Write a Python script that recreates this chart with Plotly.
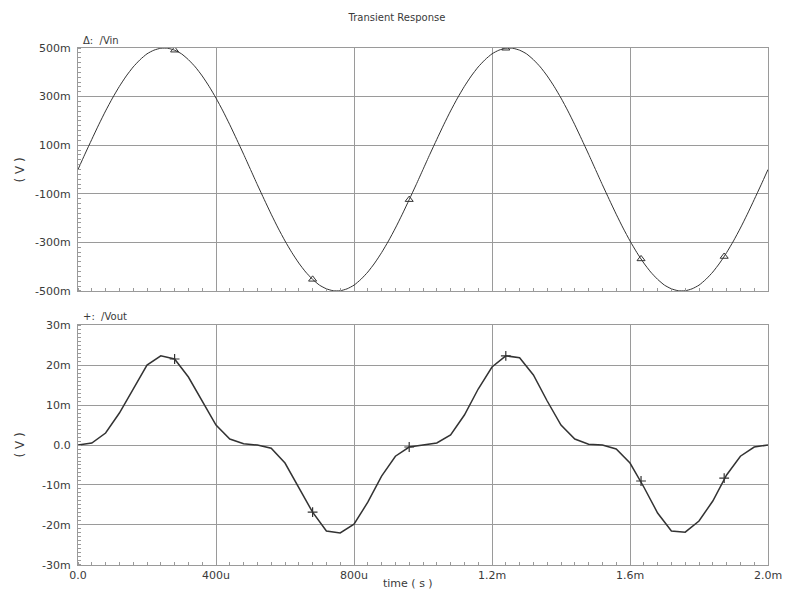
import plotly.graph_objects as go

# ---- data ----
vin_time_us = [0, 20, 40, 60, 80, 100, 120, 140, 160, 180, 200, 220, 240, 260, 280, 300, 320, 340, 360, 380,
               400, 420, 440, 460, 480, 500, 520, 540, 560, 580, 600, 620, 640, 660, 680, 700, 720, 740, 760,
               780, 800, 820, 840, 860, 880, 900, 920, 940, 960, 980, 1000, 1020, 1040, 1060, 1080, 1100, 1120,
               1140, 1160, 1180, 1200, 1220, 1240, 1260, 1280, 1300, 1320, 1340, 1360, 1380, 1400, 1420, 1440,
               1460, 1480, 1500, 1520, 1540, 1560, 1580, 1600, 1620, 1640, 1660, 1680, 1700, 1720, 1740, 1760,
               1780, 1800, 1820, 1840, 1860, 1880, 1900, 1920, 1940, 1960, 1980, 2000]
vin_mV = [0, 63, 124, 184, 241, 294, 342, 385, 422, 452, 476, 491, 499, 499, 491, 476, 452, 422, 385, 342,
          294, 241, 184, 124, 63,
          0, -63, -124, -184, -241, -294, -342, -385, -422, -452, -476, -491, -499, -499, -491, -476, -452,
          -422, -385, -342, -294, -241, -184, -124, -63,
          0, 63, 124, 184, 241, 294, 342, 385, 422, 452, 476, 491, 499, 499, 491, 476, 452, 422, 385, 342,
          294, 241, 184, 124, 63,
          0, -63, -124, -184, -241, -294, -342, -385, -422, -452, -476, -491, -499, -499, -491, -476, -452,
          -422, -385, -342, -294, -241, -184, -124, -63,
          0]

vout_time_us = [0, 40, 80, 120, 160, 200, 240, 280, 320, 360, 400, 440, 480, 520, 560, 600, 640, 680, 720, 760,
                800, 840, 880, 920, 960, 1000, 1040, 1080, 1120, 1160, 1200, 1240, 1280, 1320, 1360, 1400, 1440,
                1480, 1520, 1560, 1600, 1640, 1680, 1720, 1760, 1800, 1840, 1880, 1920, 1960, 2000]
vout_mV = [0, 0.5, 3.0, 8.0, 14.0, 20.0, 22.3, 21.5, 17.0, 11.0, 5.0, 1.5, 0.3, 0.0, -0.8, -4.5, -10.5, -16.8,
           -21.5, -22.0, -19.8, -14.3, -7.8, -2.8, -0.5, 0.0, 0.5, 2.5, 7.5, 14.0, 19.5, 22.3, 21.8, 17.5, 11.0,
           5.0, 1.5, 0.2, 0.0, -1.0, -4.5, -10.5, -17.0, -21.5, -21.8, -19.0, -14.0, -7.5, -2.8, -0.5, 0.0]

marker_us = [280, 680, 960, 1240, 1632, 1873]
vin_marker_mV = [491, -452, -124, 499, -368, -358]
vout_marker_mV = [21.5, -16.8, -0.5, 22.3, -9.0, -8.3]

x_tickvals_us = [0, 400, 800, 1200, 1600, 2000]
x_ticktext = ["0.0", "400u", "800u", "1.2m", "1.6m", "2.0m"]
top_tickvals_mV = [500, 300, 100, -100, -300, -500]
top_ticktext = ["500m", "300m", "100m", "-100m", "-300m", "-500m"]
bot_tickvals_mV = [30, 20, 10, 0, -10, -20, -30]
bot_ticktext = ["30m", "20m", "10m", "0.0", "-10m", "-20m", "-30m"]

tv = [v * 1e-6 for v in vin_time_us]
to = [v * 1e-6 for v in vout_time_us]
tm = [v * 1e-6 for v in marker_us]
vin = [v * 1e-3 for v in vin_mV]
vout = [v * 1e-3 for v in vout_mV]
vin_m = [v * 1e-3 for v in vin_marker_mV]
vout_m = [v * 1e-3 for v in vout_marker_mV]

LINE = "#333333"
GRID = "#9a9a9a"
TXT = "#3a3a3a"
FONT = "DejaVu Sans"

fig = go.Figure()
fig.add_trace(go.Scatter(x=tv, y=vin, mode="lines", line=dict(color=LINE, width=1, shape="spline", smoothing=0.6),
                         xaxis="x", yaxis="y", showlegend=False, hoverinfo="skip"))
fig.add_trace(go.Scatter(x=tm, y=vin_m, mode="markers",
                         marker=dict(symbol="triangle-up-open", size=7, color=LINE, line=dict(width=1)),
                         xaxis="x", yaxis="y", showlegend=False))
fig.add_trace(go.Scatter(x=to, y=vout, mode="lines", line=dict(color=LINE, width=1.5),
                         xaxis="x2", yaxis="y2", showlegend=False, hoverinfo="skip"))
fig.add_trace(go.Scatter(x=tm, y=vout_m, mode="markers",
                         marker=dict(symbol="cross-thin-open", size=7, color=LINE, line=dict(width=1.2, color=LINE)),
                         xaxis="x2", yaxis="y2", showlegend=False))

xt = [v * 1e-6 for v in x_tickvals_us]
common_x = dict(range=[0, 0.002], tickvals=xt, showgrid=True, gridcolor=GRID, gridwidth=1,
                showline=True, linecolor=GRID, linewidth=1, mirror=True, zeroline=False,
                ticks="", minor=dict(dtick=40e-6, tick0=0, ticks="inside", ticklen=3, tickcolor=GRID,
                                     showgrid=False))

fig.update_layout(
    width=794, height=596,
    margin=dict(l=78, r=21, t=48, b=31),
    paper_bgcolor="white", plot_bgcolor="white",
    font=dict(family=FONT, size=11, color=TXT),
    title=dict(text="Transient Response", x=0.5, xanchor="center", y=1 - 17 / 596, yanchor="middle",
               font=dict(size=10, color=TXT, family=FONT)),
    xaxis=dict(domain=[0, 1], anchor="y", showticklabels=False, **common_x),
    xaxis2=dict(domain=[0, 1], anchor="y2", showticklabels=True, ticktext=x_ticktext,
                tickfont=dict(size=11, color=TXT), **common_x),
    yaxis=dict(domain=[0.530, 1], anchor="x", range=[-0.5, 0.5],
               tickvals=[v * 1e-3 for v in top_tickvals_mV], ticktext=top_ticktext,
               showgrid=True, gridcolor=GRID, gridwidth=1, zeroline=False,
               showline=True, linecolor=GRID, linewidth=1, mirror=True, ticks="", ticklabelstandoff=4,
               minor=dict(dtick=0.02, tick0=0, ticks="inside", ticklen=3, tickcolor=GRID, showgrid=False),
               tickfont=dict(size=11, color=TXT)),
    yaxis2=dict(domain=[0, 0.4642], anchor="x2", range=[-0.03, 0.03],
                tickvals=[v * 1e-3 for v in bot_tickvals_mV], ticktext=bot_ticktext,
                showgrid=True, gridcolor=GRID, gridwidth=1, zeroline=False,
                showline=True, linecolor=GRID, linewidth=1, mirror=True, ticks="", ticklabelstandoff=4,
                minor=dict(dtick=0.001, tick0=0, ticks="inside", ticklen=3, tickcolor=GRID, showgrid=False),
                tickfont=dict(size=11, color=TXT)),
)

fig.add_annotation(text="\u0394:  /Vin", xref="paper", yref="paper", x=0.005, y=(565 - 40) / 517,
                   xanchor="left", yanchor="middle", showarrow=False, font=dict(size=10, color=TXT))
fig.add_annotation(text="+:  /Vout", xref="paper", yref="paper", x=0.005, y=(565 - 316) / 517,
                   xanchor="left", yanchor="middle", showarrow=False, font=dict(size=10, color=TXT))
fig.add_annotation(text="( V )", xref="paper", yref="paper", x=(20 - 78) / 695, y=(565 - 170) / 517,
                   xanchor="center", yanchor="middle", textangle=-90, showarrow=False,
                   font=dict(size=12, color=TXT))
fig.add_annotation(text="( V )", xref="paper", yref="paper", x=(20 - 78) / 695, y=(565 - 445) / 517,
                   xanchor="center", yanchor="middle", textangle=-90, showarrow=False,
                   font=dict(size=12, color=TXT))
fig.add_annotation(text="time ( s )", xref="paper", yref="paper", x=(410 - 78) / 695, y=(565 - 583) / 517,
                   xanchor="center", yanchor="middle", showarrow=False, font=dict(size=11, color=TXT))

fig.write_html("out.html")
